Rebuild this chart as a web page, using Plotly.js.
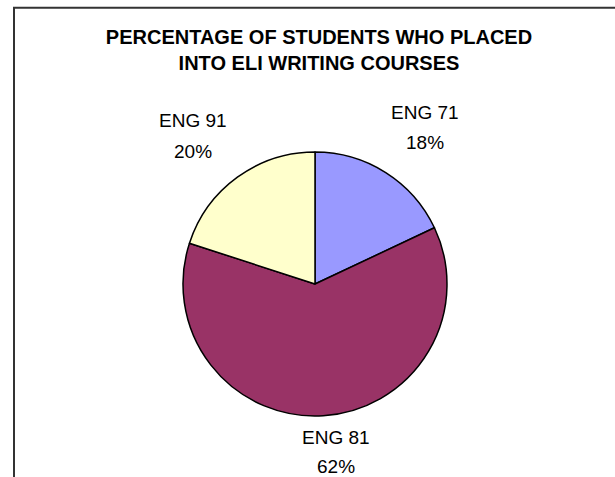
<!DOCTYPE html>
<html>
<head>
<meta charset="utf-8">
<script src="https://cdn.plot.ly/plotly-3.0.1.min.js"></script>
<style>
html,body{margin:0;padding:0;background:#fff;}
#chart{width:615px;height:477px;}
</style>
</head>
<body>
<div id="chart"></div>
<script>
var courses = ["ENG 71", "ENG 81", "ENG 91"];
var percentages = [18, 62, 20];
var sliceColors = ["#9999FF", "#993366", "#FFFFCC"];
var chartTitle = "PERCENTAGE OF STUDENTS WHO PLACED<br>INTO ELI WRITING COURSES";

var W = 615, H = 477;
var cx = 315, cy = 284, r = 132;
var FONT = "Liberation Sans, Arial, sans-serif";

// label centres (pixels) for the name line; percentage line sits below it
var labelPx = [[425, 112.5], [336, 437], [192.5, 121]];
var lineGap = [30, 29, 30];

var trace = {
  type: "pie",
  labels: courses,
  values: percentages,
  sort: false,
  direction: "clockwise",
  rotation: 0,
  marker: {colors: sliceColors, line: {color: "#000000", width: 1.5}},
  textinfo: "none",
  hoverinfo: "label+percent",
  domain: {
    x: [(cx - r) / W, (cx + r) / W],
    y: [(H - cy - r) / H, (H - cy + r) / H]
  }
};

var annotations = [];
for (var i = 0; i < courses.length; i++) {
  var px = labelPx[i][0], py = labelPx[i][1];
  annotations.push({
    xref: "paper", yref: "paper", x: px / W, y: 1 - py / H,
    xanchor: "center", yanchor: "middle", showarrow: false,
    text: courses[i],
    font: {family: FONT, size: 19, color: "#000000"}
  });
  annotations.push({
    xref: "paper", yref: "paper", x: px / W, y: 1 - (py + lineGap[i]) / H,
    xanchor: "center", yanchor: "middle", showarrow: false,
    text: percentages[i] + "%",
    font: {family: FONT, size: 19, color: "#000000"}
  });
}

var layout = {
  width: W,
  height: H,
  margin: {l: 0, r: 0, t: 0, b: 0},
  paper_bgcolor: "#ffffff",
  showlegend: false,
  title: {
    text: chartTitle,
    font: {family: FONT, size: 20, color: "#000000", weight: "bold"},
    x: 319 / W,
    xanchor: "center",
    xref: "paper",
    y: 1 - 44 / H,
    yanchor: "top",
    yref: "container"
  },
  annotations: annotations,
  shapes: [{
    type: "rect",
    xref: "paper", yref: "paper",
    x0: 14 / W, x1: 1.05,
    y0: -0.1, y1: 1 - 7.7 / H,
    line: {color: "#333333", width: 2},
    fillcolor: "rgba(0,0,0,0)"
  }]
};

Plotly.newPlot("chart", [trace], layout, {displayModeBar: false, staticPlot: true});
</script>
</body>
</html>
